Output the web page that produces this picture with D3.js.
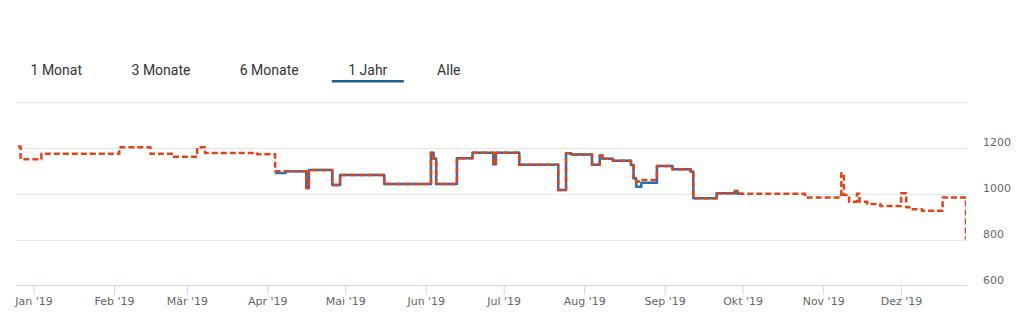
<!DOCTYPE html>
<html>
<head>
<meta charset="utf-8">
<script src="https://cdn.jsdelivr.net/npm/d3@7"></script>
<style>
  html, body { margin: 0; padding: 0; background: #fff; }
  svg { display: block; }
</style>
</head>
<body>
<svg id="chart" width="1024" height="322"></svg>
<script>
// Range selector buttons
const rangeButtons = ["1 Monat", "3 Monate", "6 Monate", "1 Jahr", "Alle"];
const activeButton = "1 Jahr";

// Axis ticks
const yTickValues = [600, 800, 1000, 1200, 1400];
const monthLabels = ["Jan '19", "Feb '19", "Mär '19", "Apr '19", "Mai '19", "Jun '19",
                     "Jul '19", "Aug '19", "Sep '19", "Okt '19", "Nov '19", "Dez '19"];

// Visible window
const windowStart = "2018-12-26";
const windowEnd = "2019-12-26";

// Dashed (orange) price series, step changes
const offerDates = [
  "2018-12-26", "2018-12-27", "2019-01-04", "2019-02-03", "2019-02-15", "2019-02-24",
  "2019-03-05", "2019-03-08", "2019-03-28", "2019-04-04", "2019-04-16", "2019-04-17",
  "2019-04-26", "2019-04-29", "2019-05-16", "2019-06-03", "2019-06-04", "2019-06-05",
  "2019-06-13", "2019-06-19", "2019-06-27", "2019-06-28", "2019-07-07", "2019-07-22",
  "2019-07-25", "2019-07-27", "2019-08-04", "2019-08-07", "2019-08-08", "2019-08-12",
  "2019-08-19", "2019-08-20", "2019-08-21", "2019-08-22", "2019-08-29", "2019-09-04",
  "2019-09-11", "2019-09-12", "2019-09-21", "2019-09-28", "2019-09-29", "2019-10-25",
  "2019-11-08", "2019-11-09", "2019-11-11", "2019-11-14", "2019-11-15", "2019-11-18",
  "2019-11-23", "2019-12-01", "2019-12-03", "2019-12-05", "2019-12-09", "2019-12-17",
  "2019-12-26"
];
const offerValues = [
  1205, 1150, 1174, 1202, 1174, 1161,
  1202, 1177, 1171, 1098, 1025, 1103,
  1038, 1081, 1042, 1178, 1152, 1042,
  1154, 1178, 1128, 1178, 1126, 1016,
  1176, 1170, 1126, 1166, 1152, 1143,
  1125, 1067, 1052, 1060, 1120, 1106,
  1096, 980, 1002, 1012, 1000, 984,
  1089, 994, 965, 1000, 965, 955,
  946, 1002, 941, 932, 926, 983,
  801
];

// Solid (blue) price series, step changes
const listDates = [
  "2019-04-04", "2019-04-08", "2019-04-16", "2019-04-17", "2019-04-26", "2019-04-29",
  "2019-05-16", "2019-06-03", "2019-06-04", "2019-06-05", "2019-06-13", "2019-06-19",
  "2019-06-27", "2019-06-28", "2019-07-07", "2019-07-22", "2019-07-25", "2019-07-27",
  "2019-08-04", "2019-08-07", "2019-08-08", "2019-08-12", "2019-08-19", "2019-08-20",
  "2019-08-21", "2019-08-23", "2019-08-29", "2019-09-04", "2019-09-11", "2019-09-12",
  "2019-09-21", "2019-09-28", "2019-09-29", "2019-10-01"
];
const listValues = [
  1090, 1098, 1025, 1103, 1038, 1081,
  1042, 1178, 1152, 1042, 1154, 1178,
  1128, 1178, 1126, 1016, 1176, 1170,
  1126, 1166, 1152, 1143, 1125, 1067,
  1030, 1048, 1120, 1106, 1096, 980,
  1002, 1012, 1000, 1000
];

const parse = d3.utcParse("%Y-%m-%d");
const offer = offerDates.map((d, i) => ({ date: parse(d), value: offerValues[i] }));
const list = listDates.map((d, i) => ({ date: parse(d), value: listValues[i] }));

const svg = d3.select("#chart");
const plot = { left: 16, right: 966.5, top: 101.7, bottom: 285.7 };

const x = d3.scaleUtc()
  .domain([parse(windowStart), parse(windowEnd)])
  .range([18, 966]);
const y = d3.scaleLinear()
  .domain([600, 1400])
  .range([plot.bottom, plot.top]);

// Range selector
const btnX = [56.3, 161, 269.2, 367.8, 448.8];
const buttons = svg.append("g").attr("class", "range-selector");
buttons.selectAll("text")
  .data(rangeButtons)
  .join("text")
  .attr("x", (d, i) => btnX[i])
  .attr("y", 75)
  .attr("text-anchor", "middle")
  .attr("font-family", "Roboto, sans-serif")
  .attr("font-size", 14)
  .attr("fill", "#333")
  .text(d => d);
const activeIdx = rangeButtons.indexOf(activeButton);
buttons.append("rect")
  .attr("x", btnX[activeIdx] - 36)
  .attr("y", 80)
  .attr("width", 72)
  .attr("height", 2.5)
  .attr("fill", "#1d5f8e");

// Grid lines and y labels
const grid = svg.append("g").attr("class", "grid");
grid.selectAll("line")
  .data(yTickValues.filter(v => v !== 600))
  .join("line")
  .attr("x1", plot.left).attr("x2", plot.right)
  .attr("y1", d => Math.round(y(d)) + 0.5).attr("y2", d => Math.round(y(d)) + 0.5)
  .attr("stroke", "#e6e6e6").attr("stroke-width", 1);

svg.append("g").attr("class", "y-labels")
  .selectAll("text")
  .data(yTickValues.filter(v => v !== 1400))
  .join("text")
  .attr("x", 983)
  .attr("y", d => y(d) - 2)
  .attr("font-family", "DejaVu Sans, sans-serif")
  .attr("font-size", 11)
  .attr("fill", "#666")
  .text(d => d);

// X axis
const monthTicks = d3.utcMonths(parse("2019-01-01"), parse("2019-12-02"));
const xAxis = d3.axisBottom(x)
  .tickValues(monthTicks)
  .tickSize(9)
  .tickPadding(3)
  .tickFormat((d, i) => monthLabels[i]);
const gx = svg.append("g")
  .attr("transform", `translate(0,${Math.round(plot.bottom) - 0.5})`)
  .call(xAxis);
gx.select(".domain").remove();
gx.insert("line", ":first-child")
  .attr("x1", plot.left).attr("x2", plot.right)
  .attr("y1", 0).attr("y2", 0)
  .attr("stroke", "#ccd6eb");
gx.selectAll(".tick line").attr("stroke", "#ccd6eb");
gx.selectAll(".tick text")
  .attr("font-family", "DejaVu Sans, sans-serif")
  .attr("font-size", 11)
  .attr("fill", "#666");

// Series
svg.append("clipPath").attr("id", "plot-clip")
  .append("rect")
  .attr("x", plot.left).attr("y", 0)
  .attr("width", 966 - plot.left).attr("height", 322);

const line = d3.line()
  .x(d => x(d.date))
  .y(d => y(d.value))
  .curve(d3.curveStepAfter);

const series = svg.append("g").attr("clip-path", "url(#plot-clip)");
series.append("path")
  .datum(list)
  .attr("d", line)
  .attr("fill", "none")
  .attr("stroke", "#2370b4")
  .attr("stroke-width", 2.5)
  .attr("stroke-linejoin", "round");
series.append("path")
  .datum(offer)
  .attr("d", line)
  .attr("fill", "none")
  .attr("stroke", "#e2441a")
  .attr("stroke-width", 2.5)
  .attr("stroke-dasharray", "6,3")
  .attr("stroke-linejoin", "round");
</script>
</body>
</html>
